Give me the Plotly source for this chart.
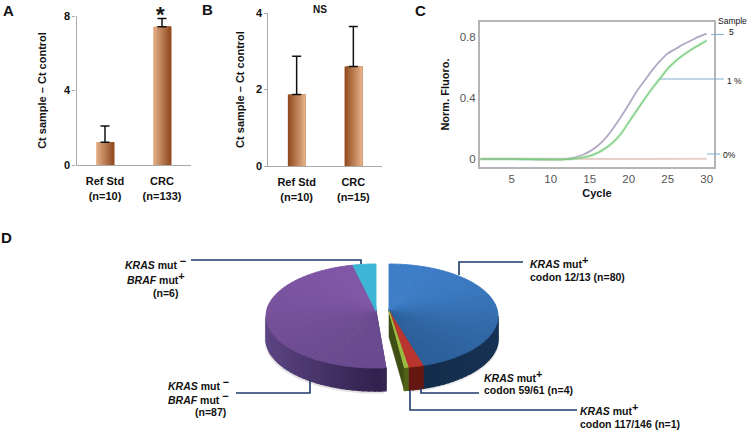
import numpy as np
import plotly.graph_objects as go

# ---------- data ----------
bar_cats_a = ["Ref Std<br>(n=10)", "CRC<br>(n=133)"]
bar_vals_a = [1.22, 7.42]
bar_err_a = [0.88, 0.45]
bar_cats_b = ["Ref Std<br>(n=10)", "CRC<br>(n=15)"]
bar_vals_b = [1.87, 2.6]
bar_err_b = [1.0, 1.05]

cycle_purple = [1, 5, 10, 12, 13, 14, 15, 16, 17, 18, 19, 20, 21, 22, 23, 24, 25, 26, 27, 28, 29, 30]
norm_purple = [0.0, 0.0, -0.003, 0.0, 0.01, 0.025, 0.05, 0.085, 0.135, 0.2, 0.275, 0.355, 0.44, 0.51, 0.58, 0.64, 0.69, 0.72, 0.75, 0.775, 0.8, 0.82]
cycle_green = [1, 5, 10, 12, 13, 14, 15, 16, 17, 18, 19, 20, 21, 22, 23, 24, 25, 26, 27, 28, 29, 30]
norm_green = [0.0, 0.0, -0.003, -0.002, 0.003, 0.01, 0.02, 0.04, 0.07, 0.11, 0.165, 0.24, 0.315, 0.39, 0.46, 0.525, 0.59, 0.64, 0.68, 0.715, 0.745, 0.775]
cycle_zero = [1, 10, 20, 30]
norm_zero = [0.002, 0.0, 0.0, 0.002]

pie_labels = ["KRAS 12/13", "KRAS 59/61", "KRAS 117/146", "KRAS- BRAF-", "KRAS- BRAF+"]
pie_values = [80, 4, 1, 87, 6]

# ---------- style ----------
W, H = 750, 433
FONT = "Liberation Sans"
BAR_LIGHT = (226, 174, 134)
BAR_DARK = (146, 76, 32)
AXIS_GREY = "#a9a9a9"
NAVY = "#1d3a6b"


def mix(c0, c1, t):
    return "rgb(%d,%d,%d)" % tuple(round(a + (b - a) * t) for a, b in zip(c0, c1))


def vdom(top, bottom):
    return [1 - bottom / H, 1 - top / H]


def hdom(left, right):
    return [left / W, right / W]


fig = go.Figure()

# ---------- bar panels ----------
BAR_W = 0.31
N_STRIP = 14


def gradient_bars(cats, vals, errs, xa, ya, c_left, c_right):
    for i in range(N_STRIP):
        start = -BAR_W / 2 + BAR_W * i / N_STRIP
        fig.add_trace(go.Bar(x=cats, y=vals, width=BAR_W * (N_STRIP - i) / N_STRIP, offset=start,
                             marker=dict(color=mix(c_left, c_right, i / (N_STRIP - 1)), line_width=0),
                             xaxis=xa, yaxis=ya, showlegend=False, hoverinfo="skip"))
    fig.add_trace(go.Scatter(x=cats, y=vals, mode="markers", marker=dict(size=1, opacity=0),
                             error_y=dict(type="data", array=errs, symmetric=False, color="#111111",
                                          thickness=1.5, width=4.5),
                             xaxis=xa, yaxis=ya, showlegend=False, hoverinfo="skip"))


gradient_bars(bar_cats_a, bar_vals_a, bar_err_a, "x", "y", BAR_LIGHT, BAR_DARK)
gradient_bars(bar_cats_b, bar_vals_b, bar_err_b, "x2", "y2", BAR_DARK, BAR_LIGHT)

# ---------- qPCR panel ----------
fig.add_trace(go.Scatter(x=cycle_zero, y=norm_zero, mode="lines", line=dict(color="#e6cfc8", width=2),
                         xaxis="x3", yaxis="y3", showlegend=False, hoverinfo="skip"))
fig.add_trace(go.Scatter(x=cycle_purple, y=norm_purple, mode="lines",
                         line=dict(color="#b3a8c4", width=1.8, shape="spline"),
                         xaxis="x3", yaxis="y3", showlegend=False, hoverinfo="skip"))
fig.add_trace(go.Scatter(x=cycle_green, y=norm_green, mode="lines",
                         line=dict(color="rgba(160,225,160,0.35)", width=3.5, shape="spline"),
                         xaxis="x3", yaxis="y3", showlegend=False, hoverinfo="skip"))
fig.add_trace(go.Scatter(x=cycle_green, y=norm_green, mode="lines",
                         line=dict(color="#7ccb80", width=1.3, shape="spline"),
                         xaxis="x3", yaxis="y3", showlegend=False, hoverinfo="skip"))

# ---------- pie, drawn in pixel coordinates on a full-page axis ----------
RX, RXL, CXR, CXL = 109, 110, 389, 376
CY, BY, APEX_Y, DEPTH = 316, 52, 311, 23
CLIP_L = 386


def arc(cx, rx, t0, t1, n):
    th = np.radians(np.linspace(t0, t1, n))
    return cx + rx * np.sin(th), CY - BY * np.cos(th)


def poly(xs, ys, color, lw=0.6):
    fig.add_trace(go.Scatter(x=list(xs), y=list(ys), mode="lines", fill="toself", fillcolor=color,
                             line=dict(color=color, width=lw), xaxis="x4", yaxis="y4",
                             showlegend=False, hoverinfo="skip"))


total = sum(pie_values)
edges = np.concatenate([[0], np.cumsum(pie_values)]) * 360.0 / total


def sector(t0, t1, cx, rx, c_top, c_bot, c_wall0, c_wall1, clip=None, steps=None):
    """Outer wall first, then the top surface shaded by height."""
    steps = steps or max(2, int((t1 - t0) / 3))
    ts = np.linspace(t0, t1, steps + 1)
    for a, b in zip(ts[:-1], ts[1:]):
        m = (a + b) / 2
        if 90 < m < 270:
            xa, ya = arc(cx, rx, a, b, 4)
            if clip is not None:
                xa = np.minimum(xa, clip)
            t = abs(np.sin(np.radians(m)))
            poly(np.r_[xa, xa[::-1], xa[0]], np.r_[ya, ya[::-1] + DEPTH, ya[0]], mix(c_wall0, c_wall1, t), lw=1.4)
    for a, b in zip(ts[:-1], ts[1:]):
        xa, ya = arc(cx, rx, a, b, 4)
        if clip is not None:
            xa = np.minimum(xa, clip)
        shade = (np.mean(ya) - (CY - BY)) / (2 * BY)
        poly(np.r_[cx, xa, cx], np.r_[APEX_Y, ya, APEX_Y], mix(c_top, c_bot, shade), lw=0.9)


# soft shadow
sx, sy = arc(CXL, RXL + 1, 176, 270, 40)
sx = np.minimum(sx, CLIP_L)
poly(np.r_[sx, sx[::-1]], np.r_[sy + DEPTH + 2.5, sy[::-1]], "rgb(226,226,226)")
sx, sy = arc(CXR, RX + 1, 90, 168, 40)
poly(np.r_[sx, sx[::-1]], np.r_[sy + DEPTH + 2, sy[::-1]], "rgb(230,230,230)")

# purple, cyan (left block)
sector(edges[3], edges[4], CXL, RXL, (128, 86, 166), (106, 74, 142), (50, 34, 78), (92, 68, 130), clip=CLIP_L, steps=60)
sector(edges[4], edges[5], CXL, RXL, (60, 182, 214), (10, 90, 120), (40, 120, 150), (40, 120, 150), steps=6)

# cut face of the green wedge
gx, gy = arc(CXR, RX, edges[3], edges[3], 2)
poly([CXR, gx[0], gx[0], CXR, CXR], [APEX_Y, gy[0], gy[0] + DEPTH, APEX_Y + 26, APEX_Y], "#3f4f14")

# blue, red, green (right block)
sector(edges[0], edges[1], CXR, RX, (62, 126, 200), (42, 94, 152), (20, 42, 72), (22, 50, 84), steps=54)
sector(edges[1], edges[2], CXR, RX, (184, 52, 44), (184, 52, 44), (104, 24, 18), (92, 20, 16), steps=3)
sector(edges[2], edges[3], CXR, RX, (154, 186, 64), (154, 186, 64), (80, 100, 24), (80, 100, 24), steps=2)

# ---------- leader lines ----------
leaders = [
    ([191, 361, 361], [260, 260, 264], NAVY),
    ([523, 459, 459], [262, 262, 275], NAVY),
    ([479, 421, 421], [393, 393, 388], NAVY),
    ([577, 410, 410], [410, 410, 390], NAVY),
    ([236, 310, 310], [393, 393, 380], NAVY),
    ([711, 724], [34.5, 34.5], "#7fb0d0"),
    ([660, 724], [79, 79], "#7fb0d0"),
    ([707, 720], [154, 154], "#7fb0d0"),
]
for lx, ly, c in leaders:
    fig.add_trace(go.Scatter(x=lx, y=ly, mode="lines", line=dict(color=c, width=1.6 if c == NAVY else 1),
                             xaxis="x4", yaxis="y4", showlegend=False, hoverinfo="skip"))

# ---------- text ----------
SUP_P = "<sup><span style='font-size:11px'>+</span></sup>"
SUP_M = "<sup><span style='font-size:11px'>\u2212</span></sup>"
texts = [
    ("A", 8, 10, 15, "center", True),
    ("B", 207, 9, 15, "center", True),
    ("C", 420, 10, 15, "center", True),
    ("D", 6, 237, 15, "center", True),
    ("*", 160, 14, 22, "center", True),
    ("NS", 320, 9, 10, "center", True),
    (f"<i>KRAS</i> mut {SUP_M}", 188, 263, 10.5, "right", True),
    (f"<i>BRAF</i> mut{SUP_P}", 187, 278, 10.5, "right", True),
    ("(n=6)", 180, 293, 10.5, "right", True),
    (f"<i>KRAS</i> mut {SUP_M}", 231, 384, 10.5, "right", True),
    (f"<i>BRAF</i> mut {SUP_M}", 231, 398, 10.5, "right", True),
    ("(n=87)", 228, 412, 10.5, "right", True),
    (f"<i>KRAS</i> mut{SUP_P}", 528, 262, 10.5, "left", True),
    ("codon 12/13 (n=80)", 528, 277, 10.5, "left", True),
    (f"<i>KRAS</i> mut{SUP_P}", 482, 376, 10.5, "left", True),
    ("codon 59/61 (n=4)", 482, 390, 10.5, "left", True),
    (f"<i>KRAS</i> mut{SUP_P}", 578, 409, 10.5, "left", True),
    ("codon 117/146 (n=1)", 578, 424, 10.5, "left", True),
    ("Sample", 732, 21, 8.5, "center", False),
    ("5", 731, 32, 8.5, "center", False),
    ("1 %", 734, 81, 8.5, "center", False),
    ("0%", 729, 155, 8.5, "center", False),
]
annotations = []
for t, x, y, s, anchor, bold in texts:
    annotations.append(dict(text=f"<b>{t}</b>" if bold else t, x=x, y=y, xref="x4", yref="y4", showarrow=False,
                            xanchor=anchor, yanchor="middle", align=anchor,
                            font=dict(family=FONT, size=s, color="#111111")))

tick_font = dict(family=FONT, size=11, color="#111111")
bold_title = lambda s: f"<b>{s}</b>"


def bar_x(left, right):
    return dict(domain=hdom(left, right), automargin=False, showline=True, linecolor=AXIS_GREY, linewidth=1.2,
                showgrid=False, zeroline=False, ticks="outside", ticklen=6, tickcolor="rgba(0,0,0,0)",
                tickfont=dict(family=FONT, size=11, color="#111111"), range=[-0.5, 1.5], type="category")


def bar_y(top, bottom, ymax, dt, standoff):
    return dict(domain=vdom(top, bottom), automargin=False, range=[0, ymax], tickvals=[0, dt, ymax],
                ticktext=[f"<b>{v}</b>" for v in (0, dt, ymax)], showline=True, linecolor=AXIS_GREY,
                linewidth=1.2, showgrid=False, zeroline=False, ticks="outside", ticklen=3, tickcolor=AXIS_GREY,
                tickfont=tick_font,
                title=dict(text=bold_title("Ct sample \u2013 Ct control"), standoff=standoff,
                           font=dict(family=FONT, size=11, color="#111111")))


xa_a = bar_x(76.5, 190.5)
xa_b = bar_x(268.3, 381.7)
ya_a = bar_y(16, 165, 8, 4, 15)
ya_b = bar_y(13, 166, 4, 2, 9)
xa_a.update(tickmode="array", tickvals=bar_cats_a, ticktext=[f"<b>{c}</b>" for c in bar_cats_a])
xa_b.update(tickmode="array", tickvals=bar_cats_b, ticktext=[f"<b>{c}</b>" for c in bar_cats_b])

fig.update_layout(
    width=W, height=H, margin=dict(l=0, r=0, t=0, b=0, pad=0), paper_bgcolor="white", plot_bgcolor="rgba(0,0,0,0)",
    barmode="overlay", showlegend=False, font=dict(family=FONT),
    xaxis=dict(xa_a, anchor="y"), yaxis=dict(ya_a, anchor="x"),
    xaxis2=dict(xa_b, anchor="y2"), yaxis2=dict(ya_b, anchor="x2"),
    xaxis3=dict(domain=hdom(480, 714), automargin=False, range=[0.94, 30.94], anchor="y3",
                tickvals=[5, 10, 15, 20, 25, 30],
                showgrid=False, zeroline=False, showline=True, mirror=True, linecolor="#b5b5b5", linewidth=2,
                ticks="", tickfont=dict(family=FONT, size=11.5, color="#555555"),
                title=dict(text="<b>Cycle</b>", standoff=6, font=dict(family=FONT, size=11, color="#111111"))),
    yaxis3=dict(domain=vdom(22, 167), automargin=False, range=[-0.052, 0.896], anchor="x3", tickvals=[0, 0.4, 0.8],
                ticktext=["0", "0.4", "0.8"], showgrid=False, zeroline=False, showline=True, mirror=True,
                linecolor="#b5b5b5", linewidth=2, ticks="", tickfont=dict(family=FONT, size=11.5, color="#555555"),
                title=dict(text="<b>Norm. Fluoro.</b>", standoff=8, font=dict(family=FONT, size=11, color="#111111"))),
    xaxis4=dict(domain=[0, 1], automargin=False, range=[0, W], visible=False, anchor="y4", fixedrange=True),
    yaxis4=dict(domain=[0, 1], automargin=False, range=[H, 0], visible=False, anchor="x4", fixedrange=True),
    annotations=annotations,
)

fig.write_html("out.html", config=dict(displayModeBar=False),
               post_script="document.body.style.margin='0';")
